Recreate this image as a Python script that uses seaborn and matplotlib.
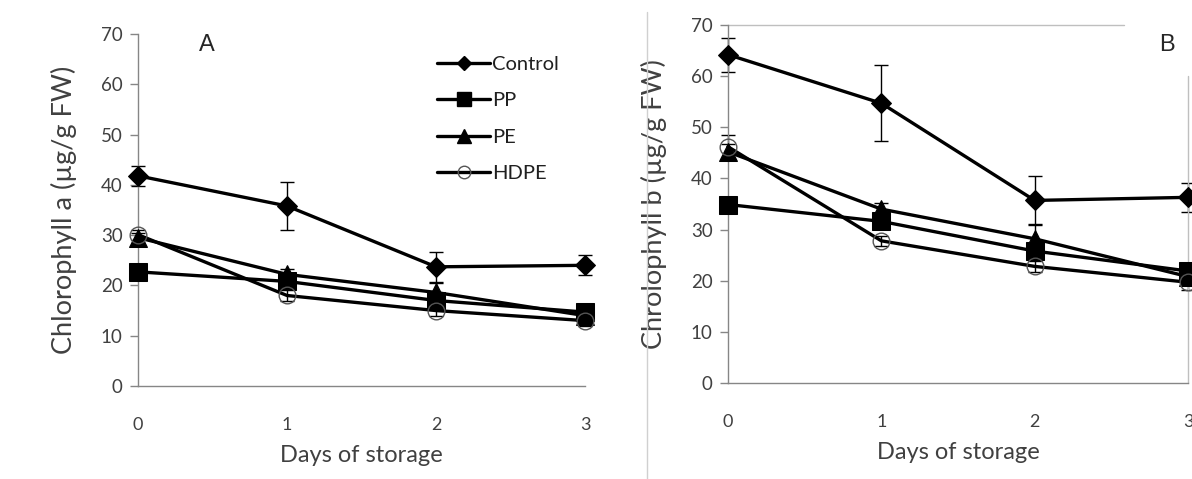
import matplotlib
matplotlib.use("Agg")
import matplotlib.pyplot as plt
from matplotlib.lines import Line2D
import seaborn as sns

days = [0, 1, 2, 3]
series_names = ["Control", "PP", "PE", "HDPE"]

# chlorophyll a (panel A)
chl_a = {
    "Control": [41.8, 35.8, 23.7, 24.0],
    "PP": [22.7, 20.8, 17.0, 14.7],
    "PE": [29.5, 22.2, 18.6, 14.0],
    "HDPE": [30.1, 18.0, 15.0, 13.0],
}
err_a = {
    "Control": [2.0, 4.7, 3.0, 2.0],
    "PP": [1.0, 1.0, 1.0, 1.0],
    "PE": [1.0, 1.0, 1.8, 1.0],
    "HDPE": [1.0, 1.0, 1.0, 1.0],
}

# chlorophyll b (panel B)
chl_b = {
    "Control": [64.2, 54.7, 35.7, 36.3],
    "PP": [34.9, 31.6, 25.8, 21.9],
    "PE": [45.2, 34.0, 28.2, 20.8],
    "HDPE": [46.2, 27.8, 22.8, 19.7],
}
err_b = {
    "Control": [3.3, 7.4, 4.8, 2.9],
    "PP": [1.0, 1.0, 1.0, 1.0],
    "PE": [1.5, 1.2, 2.8, 1.0],
    "HDPE": [2.2, 1.0, 1.0, 1.5],
}

styles = {
    "Control": dict(marker="D", markersize=10, markerfacecolor="black", markeredgecolor="black"),
    "PP": dict(marker="s", markersize=13, markerfacecolor="black", markeredgecolor="black"),
    "PE": dict(marker="^", markersize=13, markerfacecolor="black", markeredgecolor="black"),
    "HDPE": dict(marker="o", markersize=12, markerfacecolor="none", markeredgecolor="#555555",
                 markeredgewidth=1.0),
}

sns.set_style("white")
plt.rcParams["font.family"] = ["Lato", "DejaVu Sans"]

axis_grey = "#868686"
text_grey = "#404040"

fig = plt.figure(figsize=(11.92, 4.79), dpi=100)
ax_a = fig.add_axes([138 / 1192, 1 - 386 / 479, 447 / 1192, 352 / 479])
ax_b = fig.add_axes([728 / 1192, 1 - 383 / 479, 460 / 1192, 358 / 479])


def draw_panel(ax, values, errors, ylabel):
    for name in series_names:
        sns.lineplot(x=days, y=values[name], ax=ax, color="black", lw=2.4,
                     clip_on=False, zorder=3, **styles[name])
        ax.errorbar(days, values[name], yerr=errors[name], fmt="none",
                    ecolor="black", elinewidth=1.0, capsize=5, capthick=1.0,
                    clip_on=False, zorder=2)
    ax.set_xlim(0, 3)
    ax.set_ylim(0, 70)
    ax.set_xticks(days)
    ax.set_yticks(range(0, 71, 10))
    for s in ["top", "right"]:
        ax.spines[s].set_visible(False)
    for s in ["left", "bottom"]:
        ax.spines[s].set_color(axis_grey)
        ax.spines[s].set_linewidth(1.0)
    ax.tick_params(axis="y", length=6, width=1, color=axis_grey, labelsize=13.5,
                   labelcolor=text_grey, pad=5, left=True)
    ax.tick_params(axis="x", length=0, labelsize=13, labelcolor=text_grey, pad=22)
    ax.set_ylabel(ylabel, fontsize=19.5, color=text_grey, labelpad=17)
    ax.set_xlabel("Days of storage", fontsize=17, color=text_grey, labelpad=9)


draw_panel(ax_a, chl_a, err_a, "Chlorophyll a (µg/g FW)")
draw_panel(ax_b, chl_b, err_b, "Chrolophyll b (µg/g FW)")

# legend in panel A
handles = [Line2D([0], [0], color="black", lw=2.4, **{k: v for k, v in styles[n].items()
                                                      if k != "markersize"},
                  markersize=styles[n]["markersize"] * 0.75) for n in series_names]
leg = ax_a.legend(handles, series_names, loc="upper left", bbox_to_anchor=(0.652, 0.96),
                  frameon=False, fontsize=14.5, handlelength=2.6, handletextpad=0.1,
                  labelspacing=0.95, borderaxespad=0)
for t in leg.get_texts():
    t.set_color("#202020")

# panel letters
fig.text(207 / 1192, 1 - 45 / 479, "A", fontsize=17, family="Liberation Sans",
         ha="center", va="center")
fig.text(1167 / 1192, 1 - 45 / 479, "B", fontsize=17, family="Liberation Sans",
         ha="center", va="center")

# frame pieces around panel B and the separator
ax_b.axhline(70, xmin=0, xmax=0.86, color="#bfbfbf", lw=1.0, clip_on=False)
ax_b.axvline(3, ymin=0, ymax=60 / 70, color="#bfbfbf", lw=1.0, clip_on=False)
fig.add_artist(Line2D([647 / 1192, 647 / 1192], [0, 1 - 12 / 479], color="#d0d0d0", lw=1.0))

fig.savefig("out.png", dpi=100)
